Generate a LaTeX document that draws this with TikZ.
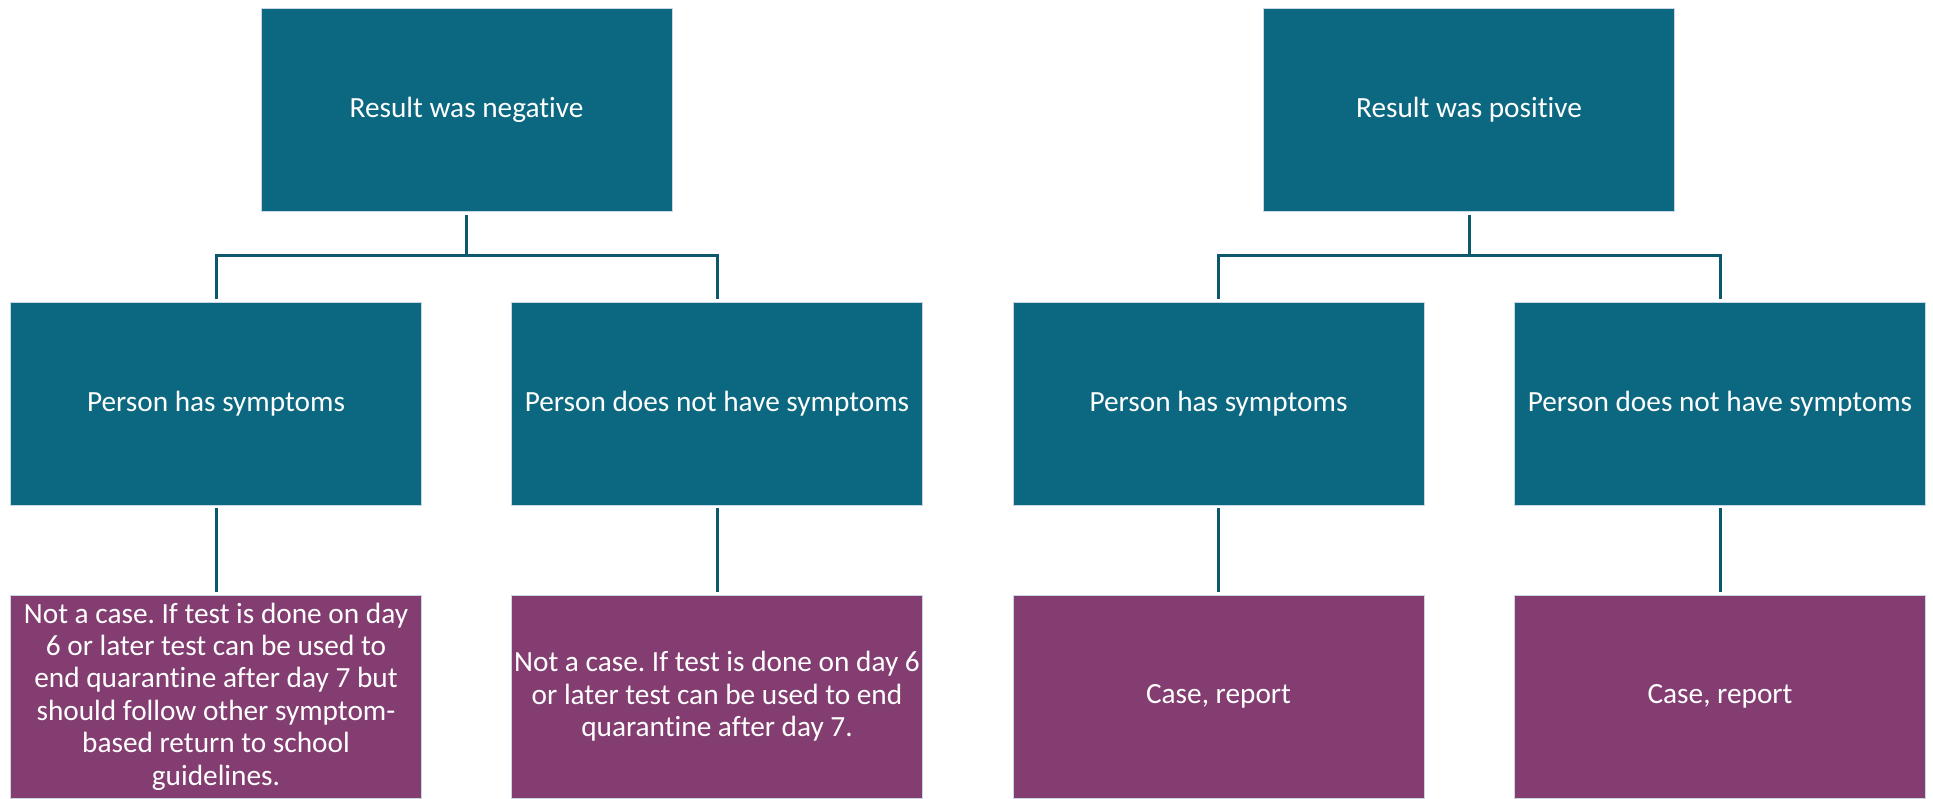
\documentclass[tikz,border=0pt]{standalone}
\usepackage{fontspec}
\setmainfont{Carlito}[Ligatures=NoCommon]
\frenchspacing
\definecolor{boxteal}{RGB}{12,104,128}
\definecolor{boxpurple}{RGB}{131,61,113}
\definecolor{linecol}{RGB}{12,88,108}
\definecolor{edgecol}{RGB}{200,215,225}
\tikzset{
  tealbox/.style={rectangle, fill=boxteal, draw=edgecol, line width=0.8pt, minimum width=411pt, minimum height=203pt, inner sep=0pt, text=white, align=center, font=\fontsize{29.3pt}{32.4pt}\selectfont},
  purplebox/.style={tealbox, fill=boxpurple},
  conn/.style={draw=linecol, line width=3pt, shorten <=3pt, shorten >=3pt}
}
\begin{document}
\begin{tikzpicture}[x=1pt,y=1pt]
\useasboundingbox (0,0) rectangle (1933,798);
% top row
\node[tealbox] (neg) at (466.5,688) {Result was negative};
\node[tealbox] (pos) at (1469,688) {Result was positive};
% second row
\node[tealbox] (n1) at (216,394.5) {Person has symptoms};
\node[tealbox] (n2) at (717,394.5) {Person does not have symptoms};
\node[tealbox] (p1) at (1218.5,394.5) {Person has symptoms};
\node[tealbox] (p2) at (1720,394.5) {Person does not have symptoms};
% third row
\node[purplebox] (r1) at (216,101.5) {Not a case. If test is done on day\\6 or later test can be used to\\end quarantine after day 7 but\\should follow other symptom-\\based return to school\\guidelines.};
\node[purplebox] (r2) at (717,101.5) {Not a case. If test is done on day 6\\or later test can be used to end\\quarantine after day 7.};
\node[purplebox] (r3) at (1218.5,101.5) {Case, report};
\node[purplebox] (r4) at (1720,101.5) {Case, report};
% junctions
\coordinate (jn) at (neg.south |- 0,542);
\coordinate (jp) at (pos.south |- 0,542);
\draw[conn, shorten >=0pt] (neg.south) -- (jn);
\draw[conn, shorten <=0pt] (jn) -| (n1.north);
\draw[conn, shorten <=0pt] (jn) -| (n2.north);
\draw[conn, shorten >=0pt] (pos.south) -- (jp);
\draw[conn, shorten <=0pt] (jp) -| (p1.north);
\draw[conn, shorten <=0pt] (jp) -| (p2.north);
\draw[conn] (n1.south) -- (r1.north);
\draw[conn] (n2.south) -- (r2.north);
\draw[conn] (p1.south) -- (r3.north);
\draw[conn] (p2.south) -- (r4.north);
\end{tikzpicture}
\end{document}
